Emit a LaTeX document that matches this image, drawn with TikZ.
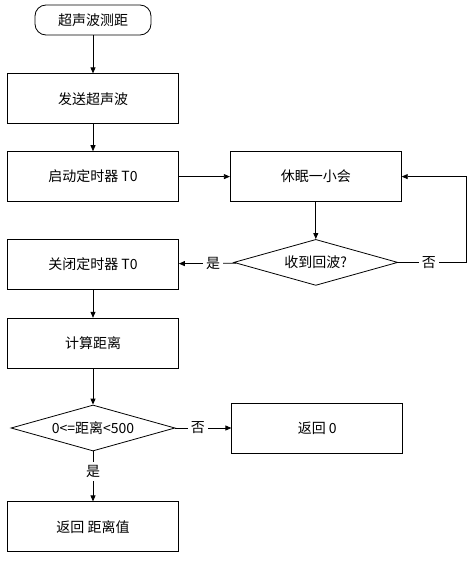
\documentclass[tikz,border=0pt]{standalone}
\usepackage{fontspec}
\setmainfont{Noto Sans CJK SC}
\usetikzlibrary{arrows.meta,positioning,shapes.geometric}

\begin{document}
\begin{tikzpicture}[x=1pt, y=-1pt, line width=0.8pt,
  font=\fontsize{14}{16}\selectfont,
  terminal/.style={draw, rounded corners=11pt, minimum width=116pt, minimum height=30pt, inner sep=0pt},
  process/.style={draw, minimum width=171pt, minimum height=50pt, inner sep=0pt},
  decision/.style={draw, diamond, aspect=3.5, minimum width=164pt, minimum height=46pt, inner sep=0pt},
  lbl/.style={fill=white, inner sep=3pt},
  arr/.style={-{Triangle[length=6pt, width=5pt]}}
]
  \useasboundingbox (0,0) rectangle (475,562);

  \node[terminal] (start) at (93,20) {超声波测距};
  \node[process, below=38pt of start] (send) {发送超声波};
  \node[process, below=27pt of send] (timeron) {启动定时器 T0};
  \node[process, right=51pt of timeron] (sleep) {休眠一小会};
  \node[decision, below=37pt of sleep] (echo) {收到回波?};
  \node[process, below=37pt of timeron] (timeroff) {关闭定时器 T0};
  \node[process, below=28pt of timeroff] (calc) {计算距离};
  \node[decision, below=36pt of calc] (range) {0<=距离<500};
  \node[process, right=56pt of range] (retzero) {返回 0};
  \node[process, below=50pt of range] (retdist) {返回 距离值};

  \draw[arr] (start) -- (send);
  \draw[arr] (send) -- (timeron);
  \draw[arr] (timeron) -- (sleep);
  \draw[arr] (sleep) -- (echo);
  \draw[arr] (echo) -- node[lbl, pos=0.4] {是} (timeroff);
  \draw[arr] (echo.east) -- node[lbl, pos=0.45] {否} ++(68,0) |- (sleep.east);
  \draw[arr] (timeroff) -- (calc);
  \draw[arr] (calc) -- (range);
  \draw[arr] (range) -- node[lbl, pos=0.4] {否} (retzero);
  \draw[arr] (range) -- node[lbl, pos=0.4] {是} (retdist);
\end{tikzpicture}
\end{document}
